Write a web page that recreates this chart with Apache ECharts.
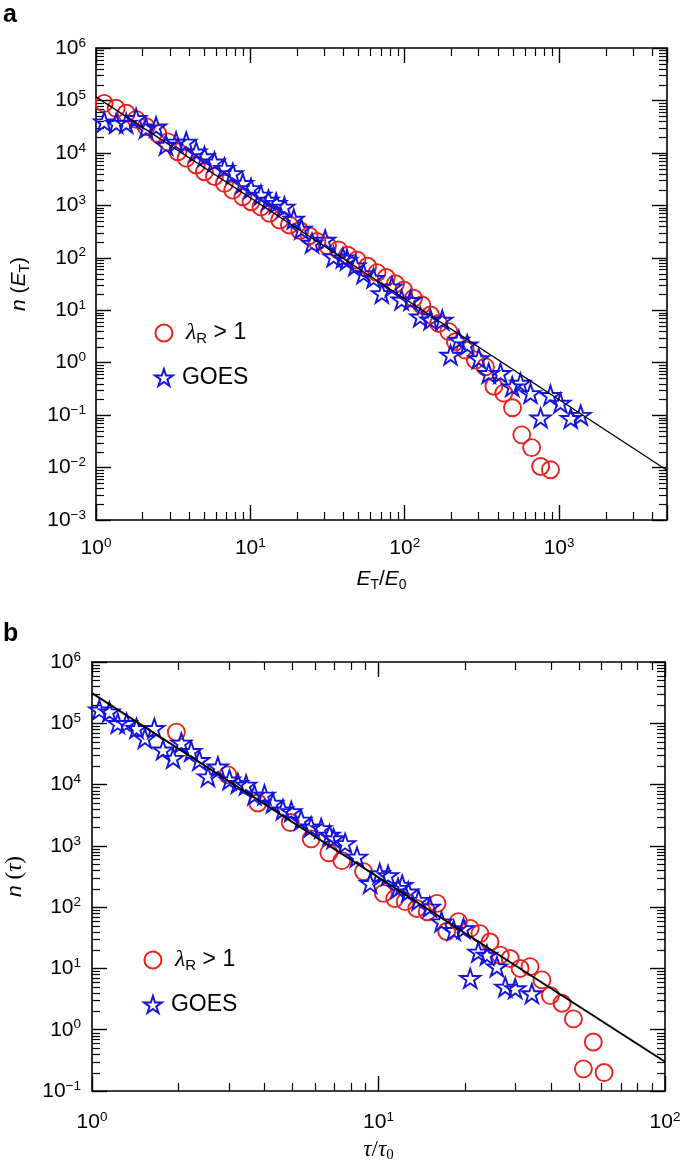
<!DOCTYPE html>
<html><head><meta charset="utf-8">
<script src="https://cdn.jsdelivr.net/npm/echarts@6/dist/echarts.min.js"></script>
<style>html,body{margin:0;padding:0;background:#fff}#c{width:685px;height:1175px}</style>
</head><body><div id="c"></div>
<script>
// ---------- Panel a data (E_T/E_0 vs n(E_T)) ----------
const aCircleX = [1.13,1.35,1.57,1.82,2.11,2.51,2.92,3.39,3.84,4.46,5.04,5.85,6.79,7.69,8.93,10.1,11.7,13.3,15.5,17.9,20.9,24.0,27.0,31.6,37.2,42.7,49.0,57.5,66.1,75.9,87.1,98.4,114,129,147,166,193,213,247,287,333,378,438,499,573,664,759,879];
const aCircleY = [88100,70800,56900,43600,31600,23400,16200,10500,7940,5890,4370,3550,2630,1950,1460,1170,933,708,525,422,331,263,204,170,141,112,91,69,52,42,32,24.3,16.9,12.6,8.1,5.6,3.9,2.5,1.74,1.12,0.83,0.355,0.263,0.138,0.042,0.024,0.0105,0.0091];
const aStarX = [1.13,1.35,1.57,1.82,2.11,2.45,2.84,3.30,3.84,4.46,5.04,5.85,6.79,7.69,8.93,10.1,11.7,13.1,14.7,16.6,19.1,21.4,25.1,30.5,34.6,39.8,42.3,47.9,54.1,62.8,71.1,82.6,95.5,109,126,147,175,198,224,254,302,350,417,497,562,653,759,879,1020,1190,1380];
const aStarY = [39400,36700,36700,45700,29500,31600,14100,16200,16200,10500,8510,6760,5130,4070,2630,2110,1580,1260,1100,933,550,355,191,219,105,100,91,71,50,41,21,28,15.8,15.5,7.5,6.6,6.5,1.4,2.7,2.2,1.2,0.63,0.63,0.35,0.41,0.26,0.089,0.24,0.17,0.087,0.10];
const aFitX = [1, 5000];
const aFitY = [117000, 0.0089];
const aRangeX = [1, 5000];
const aRangeY = [0.001, 1000000];

// ---------- Panel b data (tau/tau_0 vs n(tau)) ----------
const bCircleX = [1.97,2.98,3.79,4.92,5.82,6.71,7.45,8.87,10.4,11.4,12.4,13.6,14.8,16.0,17.3,19.0,20.9,22.6,24.5,26.6,28.8,31.2,33.8,37.2,39.8,43.7,47.9,51.9,56.2,61.3];
const bCircleY = [71800,14400,5000,2400,1300,770,575,380,168,138,123,95,84,115,40,58,45,37,27,16.5,14.5,10,10.7,6.5,3.6,2.7,1.5,0.23,0.63,0.20];
const bStarX = [1.06,1.15,1.23,1.32,1.43,1.53,1.65,1.77,1.92,2.05,2.22,2.37,2.54,2.75,3.02,3.23,3.45,3.69,4.0,4.28,4.64,4.96,5.37,5.82,6.31,6.75,6.97,7.65,8.41,9.35,10.1,10.8,11.7,12.1,12.7,13.8,15.1,16.6,18.3,19.8,20.9,22.3,23.9,25.9,27.7,30.0,34.3];
const bStarY = [166000,155000,100000,100000,83000,57000,83000,37000,27000,48000,35000,25000,13500,19500,12000,10500,9900,6800,6800,5000,3900,3650,2650,2050,1930,1510,1320,1100,660,245,355,330,204,229,178,130,101,58,42,45,6.9,18.6,16.6,10.7,5.0,4.7,3.9];
const bFitX = [1, 100];
const bFitY = [310000, 0.30];
const bRangeX = [1, 100];
const bRangeY = [0.1, 1000000];

const seriesNames = ['λR > 1', 'GOES'];

// ---------- styling ----------
const RED = '#e8231f';
const BLUE = '#1414dc';
const FONT = 'Liberation Sans';
const SERIF = 'Liberation Serif';
const STAR = 'path://M100,0 L122.45,69.1 L195.1,69.1 L136.3,111.8 L158.8,180.9 L100,138.2 L41.2,180.9 L63.7,111.8 L4.9,69.1 L77.55,69.1 Z';

const zip = (xs, ys) => xs.map((x, i) => [x, ys[i]]);

function minorValues(lo, hi) {
  const out = [];
  for (let k = Math.floor(Math.log10(lo)); k <= Math.ceil(Math.log10(hi)); k++) {
    for (let m = 2; m <= 9; m++) {
      const v = m * Math.pow(10, k);
      if (v > lo * 1.0001 && v < hi * 0.9999) out.push(v);
    }
  }
  return out;
}
function tickData(rx, ry) {
  const d = [];
  minorValues(rx[0], rx[1]).forEach(v => d.push([v, ry[0] * 10, 0]));
  minorValues(ry[0], ry[1]).forEach(v => d.push([rx[0] * 2, v, 1]));
  return d;
}
function tickRender(params, api) {
  const cs = params.coordSys;
  const len = 8;
  const style = { stroke: '#000', lineWidth: 1.2 };
  const p = api.coord([api.value(0), api.value(1)]);
  if (api.value(2) === 0) {
    const x = Math.round(p[0]) + 0.5;
    return { type: 'group', children: [
      { type: 'line', shape: { x1: x, y1: cs.y + cs.height, x2: x, y2: cs.y + cs.height - len }, style },
      { type: 'line', shape: { x1: x, y1: cs.y, x2: x, y2: cs.y + len }, style }
    ]};
  }
  const y = Math.round(p[1]) + 0.5;
  return { type: 'group', children: [
    { type: 'line', shape: { x1: cs.x, y1: y, x2: cs.x + len, y2: y }, style },
    { type: 'line', shape: { x1: cs.x + cs.width, y1: y, x2: cs.x + cs.width - len, y2: y }, style }
  ]};
}

function powLabel(v) {
  const l = Math.log10(v);
  const e = Math.round(l);
  if (Math.abs(l - e) > 1e-6) return '';
  return '{b|10}{s|' + (e < 0 ? '\u2212' + (-e) : e) + '}';
}
const labelRich = {
  b: { fontSize: 21, lineHeight: 24, fontFamily: FONT, color: '#000' },
  s: { fontSize: 13.5, lineHeight: 14, verticalAlign: 'top', fontFamily: FONT, color: '#000' }
};
const nameRich = {
  i: { fontSize: 21, lineHeight: 26, fontFamily: FONT, fontStyle: 'italic', color: '#000' },
  t: { fontSize: 21, lineHeight: 26, fontFamily: FONT, color: '#000' },
  g: { fontSize: 23, lineHeight: 26, fontFamily: SERIF, fontStyle: 'italic', color: '#000' },
  gt: { fontSize: 23, lineHeight: 26, fontFamily: SERIF, color: '#000' },
  sub: { fontSize: 14, lineHeight: 14, verticalAlign: 'bottom', fontFamily: FONT, color: '#000' },
  gsub: { fontSize: 15, lineHeight: 14, verticalAlign: 'bottom', fontFamily: SERIF, color: '#000' }
};

function makeAxis(dir, gridIndex, range, position, showLabel, margin, name, nameGap) {
  const ax = {
    type: 'log', logBase: 10, gridIndex, min: range[0], max: range[1], position,
    axisLine: { show: true, onZero: false, lineStyle: { color: '#000', width: 1.6 } },
    axisTick: { show: true, inside: true, length: 15, lineStyle: { color: '#000', width: 1.4 } },
    minorTick: { show: false }, splitLine: { show: false },
    axisLabel: { show: showLabel, margin, formatter: powLabel, rich: labelRich, showMaxLabel: true, showMinLabel: true, hideOverlap: false },
    axisPointer: { show: false }
  };
  if (name) {
    ax.name = name; ax.nameLocation = 'middle'; ax.nameGap = nameGap;
    ax.nameTextStyle = { rich: nameRich };
  }
  return ax;
}

const legendRich = {
  l: { fontSize: 24, lineHeight: 26, fontFamily: SERIF, fontStyle: 'italic', color: '#000', padding: [0, 0, 0, 4] },
  sub: { fontSize: 15, lineHeight: 14, verticalAlign: 'bottom', fontFamily: FONT, color: '#000' },
  t: { fontSize: 23, lineHeight: 26, fontFamily: FONT, color: '#000' }
};
function legendFmt(name) {
  if (name === seriesNames[0]) return '{l|λ}{sub|R}{t| > 1}';
  return '{t|' + name + '}';
}
function makeLegend(left, top) {
  return {
    left, top, orient: 'vertical', itemWidth: 26, itemHeight: 17, itemGap: 20,
    data: seriesNames, selectedMode: false, formatter: legendFmt,
    textStyle: { rich: legendRich }, padding: 0
  };
}

function panelSeries(xi, yi, circles, stars, fit, rx, ry) {
  return [
    { type: 'custom', xAxisIndex: xi, yAxisIndex: yi, data: tickData(rx, ry), renderItem: tickRender, silent: true, clip: false, z: 1, encode: { x: 0, y: 1 } },
    { name: seriesNames[0], type: 'scatter', xAxisIndex: xi, yAxisIndex: yi, data: circles, symbol: 'circle', symbolSize: 17,
      itemStyle: { color: 'rgba(255,255,255,0)', borderColor: RED, borderWidth: 1.9, opacity: 1 }, z: 2 },
    { name: seriesNames[1], type: 'scatter', xAxisIndex: xi, yAxisIndex: yi, data: stars, symbol: STAR, symbolSize: 20, symbolKeepAspect: true,
      itemStyle: { color: 'rgba(255,255,255,0)', borderColor: BLUE, borderWidth: 1.9, opacity: 1 }, z: 3 },
    { type: 'line', xAxisIndex: xi, yAxisIndex: yi, data: fit, showSymbol: false, symbol: 'none', silent: true,
      lineStyle: { color: '#000', width: xi === 0 ? 1.3 : 2 }, z: 4 }
  ];
}

const option = {
  backgroundColor: '#fff',
  animation: false,
  textStyle: { fontFamily: FONT },
  title: [
    { text: 'a', left: 3, top: 3, padding: 0, textStyle: { fontSize: 25, fontWeight: 'bold', fontFamily: FONT, color: '#000', lineHeight: 25 } },
    { text: 'b', left: 3, top: 622, padding: 0, textStyle: { fontSize: 25, fontWeight: 'bold', fontFamily: FONT, color: '#000', lineHeight: 25 } }
  ],
  legend: [ makeLegend(154, 321), makeLegend(143, 948) ],
  grid: [
    { left: 96, top: 48, width: 571, height: 472, containLabel: false, outerBoundsMode: 'none' },
    { left: 92, top: 662, width: 573, height: 429, containLabel: false, outerBoundsMode: 'none' }
  ],
  xAxis: [
    makeAxis('x', 0, aRangeX, 'bottom', true, 16, '{i|E}{sub|T}{t|/}{i|E}{sub|0}', 46),
    makeAxis('x', 0, aRangeX, 'top', false, 8),
    makeAxis('x', 1, bRangeX, 'bottom', true, 19, '{g|τ}{gt|/}{g|τ}{gsub|0}', 46),
    makeAxis('x', 1, bRangeX, 'top', false, 8)
  ],
  yAxis: [
    makeAxis('y', 0, aRangeY, 'left', true, 10, '{i|n}{t| (}{i|E}{sub|T}{t|)}', 64),
    makeAxis('y', 0, aRangeY, 'right', false, 8),
    makeAxis('y', 1, bRangeY, 'left', true, 11, '{i|n}{t| }{gt|(}{g|τ}{gt|)}', 64),
    makeAxis('y', 1, bRangeY, 'right', false, 8)
  ],
  series: [
    ...panelSeries(0, 0, zip(aCircleX, aCircleY), zip(aStarX, aStarY), zip(aFitX, aFitY), aRangeX, aRangeY),
    ...panelSeries(2, 2, zip(bCircleX, bCircleY), zip(bStarX, bStarY), zip(bFitX, bFitY), bRangeX, bRangeY)
  ]
};
const chart = echarts.init(document.getElementById('c'), null, { renderer: 'canvas' });
chart.setOption(option);
</script></body></html>
